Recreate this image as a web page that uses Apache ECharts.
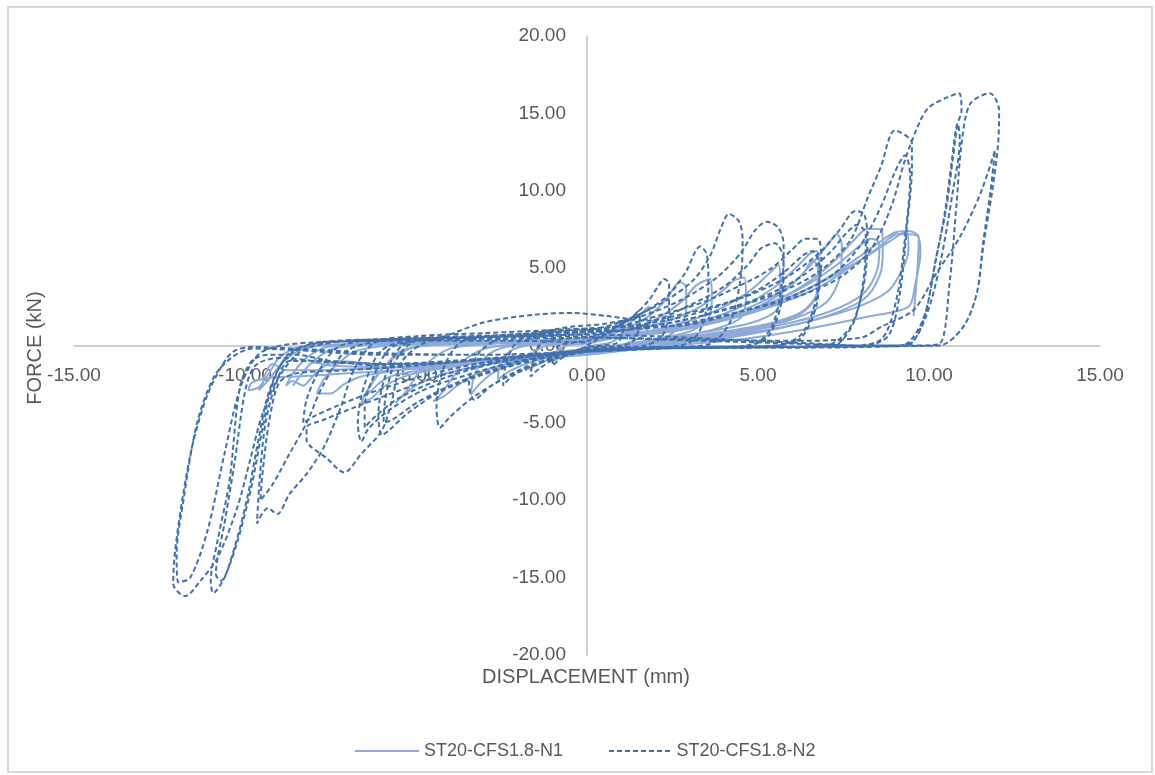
<!DOCTYPE html>
<html>
<head>
<meta charset="utf-8">
<script src="https://cdn.jsdelivr.net/npm/echarts@6/dist/echarts.min.js"></script>
<style>
  html, body { margin: 0; padding: 0; background: #ffffff; }
  #chart { width: 1155px; height: 775px; }
</style>
</head>
<body>
<div id="chart"></div>
<script>
// Hysteresis records: [displacement (mm), force (kN)]
const seriesNames = ['ST20-CFS1.8-N1', 'ST20-CFS1.8-N2'];
const xTicks = [-15, -10, -5, 0, 5, 10, 15];
const yTicks = [-20, -15, -10, -5, 0, 5, 10, 15, 20];

// Specimen N1 – early cycles
const n1Early = [
  [0,0],
  [0.4,0.5],[0.8,1.1],[1.0,1.5],[1.0,0.8],[0.7,0.2],[0.2,0.0],[-0.3,-0.3],[-0.7,-0.7],[-1.0,-1.0],[-0.95,-0.5],[-0.6,0.0],[-0.2,0.1],[0.2,0.2],
  [0.6,0.7],[1.2,1.4],[1.6,2.1],[1.8,2.5],[1.85,1.6],[1.6,0.6],[1.1,0.1],[0.4,-0.1],[-0.4,-0.4],[-1.1,-0.9],[-1.6,-1.4],[-1.8,-1.6],[-1.7,-0.8],[-1.3,-0.1],[-0.6,0.1],[0.2,0.2],
  [0.8,0.8],[1.6,1.6],[2.2,2.7],[2.5,3.6],[2.7,4.1],[2.9,3.8],[2.9,2.2],[2.5,0.8],[1.8,0.2],[0.8,0.0],[-0.2,-0.3],[-1.0,-0.7],[-1.8,-1.2],[-2.3,-1.7],[-2.6,-2.2],[-2.55,-1.2],[-2.2,-0.3],[-1.5,0.1],[-0.5,0.2],[0.4,0.3],
  [1.2,0.9],[2.1,1.8],[2.8,2.9],[3.2,3.9],[3.6,4.3],[3.65,3.2],[3.6,2.0],[3.1,1.0],[2.2,0.5],[1.2,0.1],[0.2,-0.2],[-1.0,-0.6],[-2.0,-1.1],[-2.7,-1.7],[-3.1,-2.4],[-3.4,-3.2],[-3.3,-2.0],[-3.0,-0.8],[-2.4,-0.1],[-1.4,0.1],[-0.4,0.2],[0.5,0.4],
  [1.5,1.0],[2.5,1.7],[3.3,2.5],[4.0,3.6],[4.3,4.2],[4.6,4.4],[4.65,3.0],[4.5,1.8],[3.8,1.1],[2.8,0.6],[1.6,0.2],[0.4,-0.2],[-1.0,-0.6],[-2.2,-1.1],[-3.2,-1.8],[-3.8,-2.6],[-4.2,-3.3],[-4.5,-3.6],[-4.3,-3.2],[-3.9,-2.0],[-3.5,-0.8],[-2.8,-0.1],[-1.6,0.1],[-0.5,0.2],[0.6,0.4]
];

// Specimen N1 – later cycles
const n1Late = [
  [1.8,0.9],[3.0,1.6],[4.0,2.5],[4.8,3.6],[5.3,4.6],[5.6,5.2],[5.65,4.0],[5.6,2.5],[5.0,1.6],[3.8,1.0],[2.4,0.5],[1.0,0.0],[-0.5,-0.4],[-2.0,-0.9],[-3.3,-1.4],[-4.3,-1.9],[-5.0,-2.6],[-5.4,-3.3],[-5.6,-3.7],[-5.3,-3.0],[-5.0,-2.0],[-4.6,-1.0],[-4.0,-0.2],[-2.8,0.1],[-1.4,0.2],[0,0.3],[0.8,0.5],
  [2.0,0.9],[3.4,1.6],[4.6,2.6],[5.5,3.8],[6.1,5.0],[6.5,5.9],[6.7,6.1],[6.8,5.2],[6.75,3.5],[6.3,2.2],[5.3,1.4],[4.0,0.9],[2.5,0.4],[1.0,0.0],[-0.8,-0.4],[-2.5,-0.9],[-4.0,-1.4],[-5.2,-1.9],[-5.9,-2.6],[-6.3,-3.4],[-6.6,-3.7],[-6.45,-3.0],[-6.1,-1.8],[-5.6,-0.7],[-5.0,-0.1],[-3.6,0.1],[-2.0,0.2],[-0.5,0.3],[1.0,0.6],
  [2.2,0.8],[3.6,1.4],[4.8,2.3],[5.7,3.4],[6.3,4.6],[6.6,5.5],[6.75,5.0],[6.7,3.2],[6.2,2.0],[5.0,1.2],[3.4,0.6],[1.6,0.1],[0,-0.3],[-1.8,-0.7],[-3.5,-1.2],[-4.8,-1.6],[-5.6,-1.9],[-6.0,-2.3],[-6.3,-2.9],[-6.5,-3.3],[-6.3,-2.5],[-5.9,-1.3],[-5.4,-0.3],[-4.2,0.1],[-2.5,0.2],[-0.8,0.3],[0.9,0.5],
  [2.4,1.0],[3.8,1.7],[5.0,2.7],[6.0,4.0],[6.7,5.6],[7.1,6.7],[7.3,7.2],[7.45,6.5],[7.4,4.5],[7.0,2.8],[6.0,1.7],[4.6,1.0],[3.0,0.5],[1.2,0.0],[-0.8,-0.4],[-2.8,-0.9],[-4.6,-1.3],[-5.8,-1.7],[-6.6,-2.0],[-7.1,-2.5],[-7.5,-3.1],[-7.9,-3.1],[-7.7,-2.2],[-7.3,-1.2],[-6.8,-0.4],[-5.8,0.0],[-4.0,0.1],[-2.0,0.2],[0,0.3],[1.2,0.6],
  [2.8,1.1],[4.3,1.9],[5.6,3.0],[6.6,4.3],[7.3,5.6],[7.8,6.8],[8.2,7.55],[8.6,7.5],[8.65,6.2],[8.57,4.6],[8.1,3.0],[7.0,1.9],[5.5,1.1],[3.8,0.5],[2.0,0.0],[0,-0.5],[-2.0,-0.9],[-4.0,-1.2],[-6.0,-1.4],[-7.5,-1.3],[-8.0,-1.1],[-8.3,-1.7],[-8.5,-2.3],[-8.6,-2.6],[-8.4,-2.0],[-8.0,-1.0],[-7.4,-0.2],[-6.0,0.1],[-4.0,0.2],[-2.0,0.2],[0,0.4],[1.5,0.7],
  [2.6,1.0],[4.1,1.8],[5.4,2.8],[6.5,4.0],[7.3,5.2],[7.9,6.3],[8.3,6.9],[8.55,6.6],[8.5,5.0],[8.1,3.4],[7.1,2.2],[5.6,1.3],[3.8,0.6],[1.8,0.1],[0,-0.4],[-2.0,-0.8],[-4.0,-1.1],[-6.0,-1.2],[-7.3,-1.0],[-7.8,-1.5],[-8.1,-2.2],[-8.3,-2.6],[-8.6,-2.3],[-8.8,-2.6],[-8.6,-1.8],[-8.2,-0.8],[-7.6,-0.1],[-6.0,0.1],[-4.0,0.2],[-2.0,0.2],[0,0.4],[1.4,0.7],
  [3.2,1.3],[4.8,2.2],[6.2,3.4],[7.2,4.6],[8.0,5.8],[8.5,6.6],[9.0,7.3],[9.35,7.4],[9.4,6.2],[9.24,5.0],[8.8,3.5],[7.8,2.4],[6.2,1.4],[4.4,0.6],[2.4,0.1],[0,-0.5],[-2.2,-0.9],[-4.5,-1.3],[-6.5,-1.5],[-8.0,-1.6],[-8.8,-1.6],[-9.2,-1.2],[-9.4,-1.8],[-9.5,-2.6],[-9.6,-2.9],[-9.3,-2.2],[-8.9,-1.1],[-8.3,-0.2],[-7.0,0.1],[-5.0,0.2],[-3.0,0.3],[-1.0,0.3],[0.5,0.5],[2.0,0.8],
  [3.8,1.5],[5.5,2.6],[6.8,3.8],[7.8,5.2],[8.5,6.3],[9.1,7.2],[9.65,7.1],[9.75,6.0],[9.6,4.0],[9.4,2.5],[8.3,1.9],[6.5,1.1],[4.5,0.4],[2.0,-0.1],[0,-0.6],[-2.5,-1.0],[-5.0,-1.5],[-7.0,-1.8],[-8.5,-2.0],[-9.3,-2.1],[-9.8,-2.4],[-9.9,-2.9],[-9.6,-2.7],[-9.3,-1.8],[-9.0,-0.8],[-8.4,-0.1],[-6.5,0.1],[-4.0,0.2],[-2.0,0.3],[0,0.5],[2.0,1.0],[4.0,1.8],[5.8,3.0],[7.2,4.5],[8.2,5.8],[8.9,6.8],[9.4,7.4],[9.7,7.0],[9.55,1.9]
];

// Specimen N2 – small and medium cycles
const n2Early = [
  [0,0],
  [0.3,0.4],[0.7,0.9],[1.0,1.5],[1.05,1.0],[0.9,0.2],[0.5,0.0],[0.0,-0.1],[-0.4,-0.4],[-0.8,-0.9],[-1.0,-1.3],[-1.0,-0.7],[-0.8,0.0],[-0.4,0.2],[0,0.3],
  [0.4,0.6],[0.9,1.2],[1.3,1.8],[1.5,2.2],[1.55,1.5],[1.35,0.3],[0.9,-0.05],[0.3,-0.1],[-0.3,-0.3],[-0.9,-0.8],[-1.4,-1.5],[-1.65,-2.0],[-1.6,-1.2],[-1.35,0.1],[-0.8,0.4],[-0.2,0.5],[0.2,0.6],
  [0.7,1.0],[1.3,1.8],[1.8,2.9],[2.1,3.9],[2.25,4.3],[2.4,4.0],[2.4,2.5],[2.2,0.6],[1.7,0.0],[0.8,-0.15],[0,-0.2],[-0.8,-0.6],[-1.6,-1.3],[-2.2,-2.0],[-2.45,-2.6],[-2.4,-1.5],[-2.1,0.1],[-1.5,0.5],[-0.6,0.8],[0.2,0.9],
  [0.9,1.3],[1.7,2.2],[2.4,3.3],[2.9,4.8],[3.15,6.0],[3.3,6.4],[3.5,5.9],[3.55,4.0],[3.4,1.5],[3.0,0.2],[2.0,-0.1],[1.0,-0.1],[0,-0.3],[-1.0,-0.8],[-2.0,-1.6],[-2.8,-2.6],[-3.3,-3.5],[-3.45,-2.5],[-3.2,-0.6],[-2.6,0.4],[-1.6,0.7],[-0.6,1.0],[0.3,1.1],
  [1.3,1.8],[2.3,2.9],[3.1,4.2],[3.6,5.8],[3.9,7.5],[4.15,8.5],[4.45,8.0],[4.55,6.8],[4.5,4.5],[4.2,1.6],[3.6,0.1],[2.5,-0.1],[1.2,-0.15],[0,-0.4],[-1.2,-1.0],[-2.3,-2.0],[-3.3,-3.3],[-4.0,-4.6],[-4.3,-5.3],[-4.4,-4.0],[-4.2,-1.5],[-3.7,0.2],[-2.8,0.6],[-1.6,0.8],[-0.5,1.2],[0.5,1.4],
  [1.6,1.9],[2.8,3.0],[3.8,4.4],[4.5,6.0],[4.9,7.4],[5.25,8.0],[5.6,7.6],[5.75,6.5],[5.7,4.0],[5.4,1.2],[4.8,0.0],[3.5,-0.1],[2.0,-0.15],[0.5,-0.2],[-0.8,-0.6],[-2.0,-1.2],[-3.2,-2.0],[-4.3,-3.0],[-5.2,-4.3],[-5.8,-5.5],[-6.0,-5.8],[-6.1,-4.5],[-5.9,-2.0],[-5.4,0.0],[-4.3,0.5],[-3.0,1.5],[-1.5,2.0],[-0.4,2.1],[0.6,1.9],
  [1.8,1.6],[3.0,2.6],[4.0,3.8],[4.7,5.2],[5.1,6.3],[5.5,6.6],[5.75,5.5],[5.7,3.0],[5.3,0.6],[4.5,-0.05],[3.0,-0.1],[1.0,-0.2],[-1.0,-0.6],[-2.5,-1.4],[-3.8,-2.4],[-4.9,-3.6],[-5.7,-4.8],[-5.95,-5.0],[-5.9,-3.5],[-5.6,-1.0],[-5.0,0.3],[-3.5,0.5],[-1.5,0.7],[0.5,1.0]
];

// Specimen N2 – intermediate cycles
const n2Mid = [
  [2.2,2.0],[3.4,2.8],[4.5,3.9],[5.4,5.0],[6.0,6.2],[6.4,6.9],[6.75,6.9],[6.85,5.5],[6.7,3.0],[6.3,0.8],[5.6,0.0],[4.0,-0.1],[2.5,-0.15],[1.0,-0.2],[-0.5,-0.5],[-2.0,-1.0],[-3.5,-1.9],[-4.8,-2.9],[-5.8,-4.2],[-6.4,-5.4],[-6.6,-6.2],[-6.7,-5.0],[-6.5,-2.5],[-6.0,-0.3],[-5.0,0.4],[-3.5,0.6],[-2.0,0.7],[-0.5,0.9],[1.0,1.2],
  [2.5,1.7],[3.8,2.5],[5.0,3.6],[5.8,4.8],[6.3,5.8],[6.6,6.1],[6.8,5.0],[6.7,2.5],[6.2,0.4],[5.0,-0.05],[3.0,-0.1],[1.0,-0.2],[-1.0,-0.5],[-2.8,-1.2],[-4.3,-2.2],[-5.5,-3.4],[-6.2,-4.6],[-6.5,-5.3],[-6.5,-4.0],[-6.2,-1.8],[-5.7,-0.1],[-4.5,0.4],[-2.5,0.5],[-0.5,0.7],[1.2,1.0],
  [2.0,1.6],[3.5,2.4],[4.8,3.3],[5.9,4.5],[6.8,6.0],[7.4,7.5],[7.85,8.7],[8.1,8.5],[8.2,7.0],[8.1,4.0],[7.7,1.2],[7.0,0.0],[5.5,-0.1],[3.5,-0.15],[1.5,-0.2],[-0.5,-0.4],[-2.5,-1.0],[-4.2,-1.9],[-5.6,-3.0],[-6.8,-4.0],[-7.7,-4.8],[-8.2,-5.3],[-8.2,-6.1],[-7.6,-7.3],[-7.1,-8.2],[-6.6,-7.0],[-6.0,-5.5],[-5.7,-3.5],[-5.4,-1.0],[-4.6,0.3],[-3.0,0.6],[-1.5,0.8],[0,1.0],[1.0,1.2],
  [2.3,1.4],[3.8,2.2],[5.2,3.2],[6.3,4.5],[7.1,6.0],[7.6,7.3],[7.9,7.8],[8.15,7.2],[8.1,4.5],[7.8,1.5],[7.2,0.0],[5.0,-0.1],[2.5,-0.15],[0,-0.3],[-2.5,-0.9],[-4.5,-1.8],[-6.0,-2.8],[-7.2,-3.8],[-8.0,-4.6],[-8.3,-5.0],[-8.2,-3.5],[-7.8,-1.5],[-7.2,0.0],[-5.5,0.4],[-3.0,0.6],[-1.0,0.8],[1.0,1.0],
  [2.5,1.5],[4.2,2.4],[5.6,3.4],[6.8,4.8],[7.7,6.8],[8.2,9.5],[8.6,11.6],[9.0,13.9],[9.5,13.1],[9.5,11.5],[9.35,7.6],[9.15,3.4],[8.8,0.6],[8.0,-0.05],[6.0,-0.1],[4.0,-0.15],[2.0,-0.2],[0,-0.4],[-2.0,-0.7],[-4.0,-1.0],[-6.0,-1.2],[-7.8,-1.0],[-8.7,-1.0],[-9.1,-2.5],[-9.4,-5.0],[-9.56,-8.3],[-9.65,-11.5],[-9.33,-10.5],[-9.06,-10.9],[-8.7,-9.6],[-8.2,-8.3],[-7.7,-6.6],[-7.2,-4.0],[-6.8,-1.5],[-6.2,0.2],[-5.0,0.6],[-3.0,0.8],[-1.0,1.0],[1.0,1.2],
  [2.8,1.3],[4.5,2.2],[6.0,3.2],[7.2,4.6],[8.0,6.5],[8.6,9.0],[9.0,11.2],[9.3,12.3],[9.45,11.0],[9.3,7.0],[9.05,3.0],[8.6,0.4],[7.5,-0.05],[5.0,-0.1],[2.5,-0.15],[0,-0.4],[-2.5,-0.8],[-5.0,-1.3],[-7.0,-1.6],[-8.5,-1.8],[-9.0,-2.4],[-9.3,-5.0],[-9.5,-8.5],[-9.55,-10.0],[-9.2,-9.0],[-8.7,-7.0],[-8.2,-5.0],[-7.7,-2.5],[-7.0,-0.3],[-5.5,0.4],[-3.0,0.6],[-1.0,0.8],[1.0,1.0]
];

// Specimen N2 – large cycles
const n2Late = [
  [2.5,1.3],[4.5,2.2],[6.2,3.2],[7.4,4.4],[8.3,6.2],[8.9,9.0],[9.3,12.0],[9.74,14.5],[10.0,15.4],[10.5,16.0],[10.88,16.3],[10.95,15.2],[10.8,14.1],[10.67,12.0],[10.47,8.7],[10.2,5.5],[9.83,1.6],[9.35,0.0],[8.0,-0.05],[6.0,-0.1],[4.0,-0.15],[2.0,-0.2],[0,-0.4],[-2.0,-0.7],[-4.0,-1.0],[-6.0,-1.3],[-7.5,-1.0],[-8.5,-0.6],[-9.3,-0.6],[-9.8,-1.0],[-10.15,-2.7],[-10.45,-8.7],[-10.8,-12.6],[-11.0,-15.2],[-10.93,-16.0],[-10.6,-15.0],[-10.2,-12.5],[-9.8,-9.0],[-9.5,-5.5],[-9.2,-2.5],[-8.7,-0.5],[-7.8,0.2],[-6.0,0.4],[-4.0,0.5],[-2.0,0.6],[0,0.7],[2.0,0.6],[4.0,0.4],[6.0,0.2],[8.0,0.0],
  [9.2,0.0],[9.83,1.7],[10.2,5.6],[10.5,8.8],[10.7,12.1],[10.85,14.3],[10.9,13.3],[10.7,10.0],[10.3,5.0],[9.9,1.8],[9.4,0.1],[8.0,-0.1],[5.0,-0.15],[2.0,-0.2],[0,-0.4],[-2.5,-0.8],[-5.0,-1.2],[-7.5,-1.1],[-9.0,-0.8],[-9.7,-1.3],[-10.0,-3.0],[-10.3,-7.5],[-10.6,-11.5],[-10.85,-14.8],[-10.7,-15.2],[-10.3,-13.0],[-9.9,-9.5],[-9.6,-6.0],[-9.3,-3.0],[-8.8,-0.8],[-8.0,0.1],[-6.0,0.3],[-3.0,0.4],[0,0.5],[3.0,0.4],[6.0,0.3],[8.0,0.5],
  [8.6,1.2],[9.55,2.3],[10.2,4.6],[10.9,7.0],[11.5,9.8],[11.93,12.6],[11.8,10.0],[11.58,6.6],[11.4,3.4],[11.0,1.2],[10.3,0.0],[8.5,-0.05],[6.0,-0.1],[3.0,-0.15],[0,-0.4],[-3.0,-0.6],[-6.0,-0.5],[-8.5,-0.2],[-9.85,-0.1],[-10.35,-0.4],[-10.67,-1.3],[-11.1,-3.2],[-11.5,-6.1],[-11.8,-9.5],[-12.05,-13.4],[-12.1,-15.4],[-11.75,-16.2],[-11.3,-15.2],[-10.8,-13.7],[-10.23,-10.5],[-9.85,-7.4],[-9.5,-4.5],[-9.0,-2.0],[-8.3,-0.3],[-7.0,0.3],[-4.0,0.5],[-1.0,0.6],[2.0,0.4],[5.0,0.2],[8.0,0.0],[9.6,0.0],
  [10.3,0.1],[10.6,4.0],[10.8,9.0],[10.95,13.0],[11.2,15.6],[11.78,16.3],[12.05,15.2],[12.02,13.0],[11.85,10.0],[11.6,6.6],[11.4,3.4],[11.0,1.2],[10.3,0.0],[8.0,-0.05],[5.0,-0.1],[2.0,-0.15],[0,-0.4],[-3.0,-0.6],[-6.0,-0.6],[-8.5,-0.3],[-9.8,-0.2],[-10.4,-0.8],[-10.9,-2.0],[-11.4,-5.0],[-11.8,-10.0],[-12.0,-13.5],[-11.95,-15.3],[-11.6,-15.0],[-11.1,-12.0],[-10.6,-7.0],[-10.1,-2.5],[-9.5,-0.4],[-8.0,0.2],[-5.0,0.3],[-2.0,0.3],[0,0.2]
];

const n1Points = n1Early.concat(n1Late);
const n2Points = n2Early.concat(n2Mid, n2Late);

const FONT = '"Liberation Sans", "DejaVu Sans", sans-serif';
const TEXT = '#595959';
const AXIS = '#bfbfbf';
const N1_COLOR = '#8eaad8';
const N2_COLOR = '#4170ab';

// Grid geometry; the axes are shifted inward so they cross at the origin
const GRID = { left: 74, right: 55, top: 36, bottom: 120 };
const W = 1155, H = 775;
const plotW = W - GRID.left - GRID.right;
const plotH = H - GRID.top - GRID.bottom;
const xZeroOffset = -plotH * (0 - yTicks[0]) / (yTicks[yTicks.length - 1] - yTicks[0]);
const yZeroOffset = -plotW * (0 - xTicks[0]) / (xTicks[xTicks.length - 1] - xTicks[0]);

// Legend icons: a solid bar and a dashed bar
const dashIcon = 'path://M0,0h5v2h-5z M8,0h5v2h-5z M16,0h5v2h-5z M24,0h5v2h-5z M32,0h5v2h-5z M40,0h5v2h-5z M48,0h5v2h-5z M56,0h5v2h-5z';

const chart = echarts.init(document.getElementById('chart'), null, { renderer: 'canvas' });

const fmt = v => Number(v).toFixed(2);

chart.setOption({
  animation: false,
  backgroundColor: '#ffffff',
  textStyle: { fontFamily: FONT },
  grid: { left: GRID.left, right: GRID.right, top: GRID.top, bottom: GRID.bottom, containLabel: false, outerBoundsMode: 'none' },
  xAxis: {
    type: 'value',
    position: 'bottom',
    offset: xZeroOffset,
    min: xTicks[0],
    max: xTicks[xTicks.length - 1],
    interval: 5,
    axisLine: { onZero: false, lineStyle: { color: AXIS, width: 1.5 } },
    axisTick: { show: false },
    splitLine: { show: false },
    axisLabel: { formatter: fmt, color: TEXT, fontSize: 19, margin: 21, fontFamily: FONT, showMinLabel: true, showMaxLabel: true, hideOverlap: false }
  },
  yAxis: {
    type: 'value',
    position: 'left',
    offset: yZeroOffset,
    min: yTicks[0],
    max: yTicks[yTicks.length - 1],
    interval: 5,
    axisLine: { onZero: false, lineStyle: { color: AXIS, width: 1.5 } },
    axisTick: { show: false },
    splitLine: { show: false },
    axisLabel: { formatter: fmt, color: TEXT, fontSize: 19, margin: 21, fontFamily: FONT, showMinLabel: true, showMaxLabel: true, hideOverlap: false }
  },
  legend: {
    left: 350,
    top: 737,
    itemWidth: 64,
    itemHeight: 2,
    itemGap: 46,
    textStyle: { fontSize: 18, color: TEXT, fontFamily: FONT },
    data: [
      { name: seriesNames[0], icon: 'rect' },
      { name: seriesNames[1], icon: dashIcon }
    ]
  },
  series: [
    {
      name: seriesNames[0],
      type: 'line',
      data: n1Points,
      symbol: 'none',
      smooth: 0.3,
      lineStyle: { color: N1_COLOR, width: 2 },
      itemStyle: { color: N1_COLOR },
      z: 2
    },
    {
      name: seriesNames[1],
      type: 'line',
      data: n2Points,
      symbol: 'none',
      smooth: 0.3,
      lineStyle: { color: N2_COLOR, width: 2, type: [5, 3] },
      itemStyle: { color: N2_COLOR },
      z: 3
    }
  ],
  graphic: [
    {
      type: 'rect',
      shape: { x: 8, y: 7, width: 1144, height: 765 },
      style: { fill: 'none', stroke: '#d9d9d9', lineWidth: 2 },
      silent: true, z: -10
    },
    {
      type: 'text',
      x: 35, y: 348,
      rotation: Math.PI / 2,
      style: { text: 'FORCE (kN)', fill: TEXT, font: '20px ' + FONT, textAlign: 'center', textVerticalAlign: 'middle' },
      silent: true, z: 10
    },
    {
      type: 'text',
      x: 586, y: 677,
      style: { text: 'DISPLACEMENT (mm)', fill: TEXT, font: '20px ' + FONT, textAlign: 'center', textVerticalAlign: 'middle' },
      silent: true, z: 10
    }
  ]
});
</script>
</body>
</html>
